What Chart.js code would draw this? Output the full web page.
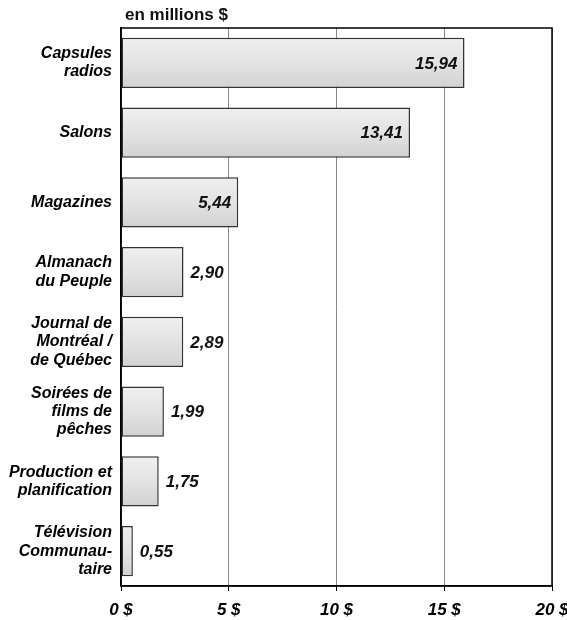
<!DOCTYPE html>
<html>
<head>
<meta charset="utf-8">
<script src="https://cdn.jsdelivr.net/npm/chart.js@4"></script>
<style>
  html, body { margin: 0; padding: 0; background: #fff; }
  #wrap { width: 567px; height: 620px; position: relative; }
</style>
</head>
<body>
<div id="wrap"><canvas id="chartBudget"></canvas></div>
<script>
var categories = [
  ["Capsules", "radios"],
  ["Salons"],
  ["Magazines"],
  ["Almanach", "du Peuple"],
  ["Journal de", "Montréal /", "de Québec"],
  ["Soirées de", "films de", "pêches"],
  ["Production et", "planification"],
  ["Télévision", "Communau-", "taire"]
];
var values = [15.94, 13.41, 5.44, 2.90, 2.89, 1.99, 1.75, 0.55];
var valueLabels = ["15,94", "13,41", "5,44", "2,90", "2,89", "1,99", "1,75", "0,55"];
var tickValues = [0, 5, 10, 15, 20];
var unitTitle = "en millions $";

var fontFamily = "'Liberation Sans', Arial, sans-serif";

// mostly vertical shading, light on top, darker at the bottom
var barGradient = function(context) {
  var chart = context.chart;
  var ys = chart.scales.y;
  if (!chart.chartArea || !ys) return "#e0e0e0";
  var yc = ys.getPixelForValue(context.dataIndex);
  if (!isFinite(yc)) return "#e0e0e0";
  var g = chart.ctx.createLinearGradient(0, yc - 25, 0, yc + 25);
  g.addColorStop(0, "#efefef");
  g.addColorStop(0.5, "#e3e3e3");
  g.addColorStop(1, "#d2d2d2");
  return g;
};

var extras = {
  id: "extras",
  afterDatasetsDraw: function(chart) {
    var ctx = chart.ctx;
    var meta = chart.getDatasetMeta(0);
    ctx.save();
    ctx.font = "italic bold 17px " + fontFamily;
    ctx.fillStyle = "#111";
    ctx.textBaseline = "middle";
    meta.data.forEach(function(bar, i) {
      var text = valueLabels[i];
      if (values[i] > 4) {
        ctx.textAlign = "right";
        ctx.fillText(text, bar.x - 7, bar.y + 1);
      } else {
        ctx.textAlign = "left";
        ctx.fillText(text, bar.x + 7, bar.y + 1);
      }
    });
    // frame around plot
    var a = chart.chartArea;
    ctx.strokeStyle = "#000";
    ctx.lineWidth = 1.5;
    ctx.strokeRect(a.left, a.top, a.right - a.left, a.bottom - a.top);
    // title
    ctx.font = "bold 17px " + fontFamily;
    ctx.textAlign = "left";
    ctx.textBaseline = "middle";
    ctx.fillText(unitTitle, 125, 15);
    ctx.restore();
  }
};

new Chart(document.getElementById("chartBudget"), {
  type: "bar",
  data: {
    labels: categories,
    datasets: [{
      data: values,
      backgroundColor: barGradient,
      borderColor: "#333",
      borderWidth: 1.5,
      borderSkipped: false,
      barPercentage: 0.9,
      categoryPercentage: 0.8
    }]
  },
  plugins: [extras],
  options: {
    indexAxis: "y",
    responsive: true,
    maintainAspectRatio: false,
    animation: false,
    layout: { padding: { top: 28, right: 15, left: 0, bottom: 0 } },
    plugins: {
      legend: { display: false },
      tooltip: { enabled: false }
    },
    scales: {
      x: {
        min: 0,
        max: 20,
        afterBuildTicks: function(scale) {
          scale.ticks = tickValues.map(function(v) { return { value: v }; });
        },
        afterFit: function(scale) {
          scale.height = 34;
          scale.paddingLeft = 0;
          scale.paddingRight = 0;
        },
        grid: {
          color: "#888",
          lineWidth: 1,
          drawTicks: true,
          tickLength: 5,
          tickColor: "#000"
        },
        border: { display: true, color: "#000", width: 1.5 },
        ticks: {
          color: "#000",
          font: { family: fontFamily, size: 17, weight: "bold", style: "italic" },
          padding: 9,
          maxRotation: 0,
          callback: function(v) { return v + " $"; }
        }
      },
      y: {
        afterFit: function(scale) {
          scale.width = 121;
          scale.paddingTop = 0;
          scale.paddingBottom = 0;
        },
        grid: { display: false, drawTicks: false },
        border: { display: true, color: "#000", width: 1.5 },
        ticks: {
          color: "#000",
          font: { family: fontFamily, size: 16, weight: "bold", style: "italic", lineHeight: 1.15 },
          padding: 9
        }
      }
    }
  }
});
</script>
</body>
</html>
